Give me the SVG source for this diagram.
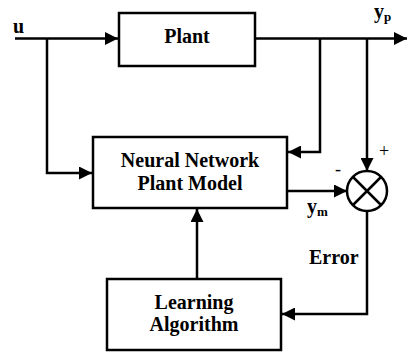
<svg xmlns="http://www.w3.org/2000/svg" width="407" height="354" viewBox="0 0 407 354">
<style>
.box{fill:#fff;stroke:#000;stroke-width:2.5}
.ln{fill:none;stroke:#000;stroke-width:2.5}
.t{font-family:"Liberation Serif","Times New Roman",serif;font-weight:bold;font-size:20px;fill:#000}
.c{text-anchor:middle}
.s{font-size:13px}
.sg{font-family:"Liberation Serif","Times New Roman",serif;font-size:18px;fill:#000}
</style>
<defs>
<marker id="ah" markerUnits="userSpaceOnUse" markerWidth="13" markerHeight="13" viewBox="0 0 13 13" refX="13" refY="6.5" orient="auto">
<path d="M0,0 L13,6.5 L0,13 Z" fill="#000"/>
</marker>
</defs>
<g id="connectors">
<path class="ln" d="M15,38.5 H118" marker-end="url(#ah)"/>
<path class="ln" d="M47,38.5 V173 H92" marker-end="url(#ah)"/>
<path class="ln" d="M255,38.5 H407" marker-end="url(#ah)"/>
<path class="ln" d="M320,38.5 V152 H288" marker-end="url(#ah)"/>
<path class="ln" d="M367,38.5 V171" marker-end="url(#ah)"/>
<path class="ln" d="M287,191 H347" marker-end="url(#ah)"/>
<path class="ln" d="M197,279 V209" marker-end="url(#ah)"/>
<path class="ln" d="M367,211 V314 H282" marker-end="url(#ah)"/>
</g>
<g id="plant">
<rect class="box" x="119" y="13" width="136" height="53"/>
<text class="t c" x="187" y="43">Plant</text>
</g>
<g id="nn-model">
<rect class="box" x="93" y="137" width="194" height="71"/>
<text class="t c" x="190" y="167">Neural Network</text>
<text class="t c" x="190" y="190">Plant Model</text>
</g>
<g id="learning">
<rect class="box" x="107" y="279" width="174" height="71"/>
<text class="t c" x="194" y="309">Learning</text>
<text class="t c" x="194" y="331">Algorithm</text>
</g>
<g id="summer">
<circle class="ln" cx="367" cy="191" r="20"/>
<path class="ln" d="M353,177 L381,205 M381,177 L353,205"/>
</g>
<g id="labels">
<text class="t" x="13" y="33">u</text>
<text class="t" x="374" y="18">y<tspan class="s" dy="3">p</tspan></text>
<text class="t" x="307" y="213">y<tspan class="s" dy="3">m</tspan></text>
<text class="t" x="309" y="264">Error</text>
<text class="sg" x="379" y="157">+</text>
<text class="sg" x="335" y="175">-</text>
</g>
</svg>
